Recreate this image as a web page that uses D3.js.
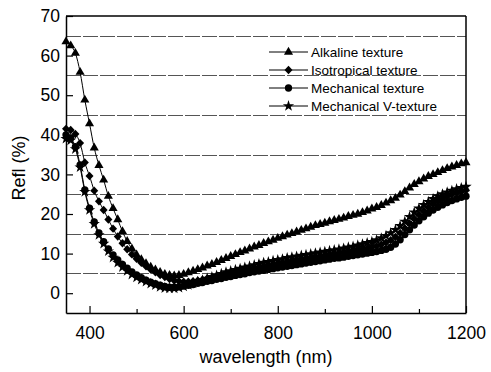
<!DOCTYPE html>
<html>
  <head>
    <meta charset="UTF-8">
    <title>Refl vs wavelength</title>
    <style>
    html, body {
      margin: 0;
      background-color: white;
    }
    text {
      font-family: 'Liberation Sans', Arial, sans-serif;
      fill: black;
    }
    </style>
  </head>

  <body>
  <svg id="chart" width="491" height="372"></svg>
  <script src="https://d3js.org/d3.v7.min.js"></script>
  <script>
  // Wavelength samples (nm)
  var wavelength = [350, 360, 370, 380, 390, 400, 410, 420, 430, 440,
    450, 460, 470, 480, 490, 500, 510, 520, 530, 540,
    550, 560, 570, 580, 590, 600, 610, 620, 630, 640,
    650, 660, 670, 680, 690, 700, 710, 720, 730, 740,
    750, 760, 770, 780, 790, 800, 810, 820, 830, 840,
    850, 860, 870, 880, 890, 900, 910, 920, 930, 940,
    950, 960, 970, 980, 990, 1000, 1010, 1020, 1030, 1040,
    1050, 1060, 1070, 1080, 1090, 1100, 1110, 1120, 1130, 1140,
    1150, 1160, 1170, 1180, 1190, 1200];

  // Reflectance (%) per texture
  var alkaline = [63.5, 62.5, 60.6, 55.8, 48.8, 42.8, 36.7, 32.3, 28.6, 24.5,
    21.4, 18.6, 15.6, 13.1, 11.2, 9.7, 8.5, 7.5, 6.6, 5.9,
    5.3, 4.8, 4.5, 4.4, 4.5, 4.8, 5.2, 5.6, 6.0, 6.4,
    6.9, 7.3, 7.8, 8.3, 8.8, 9.3, 9.8, 10.3, 10.7, 11.2,
    11.7, 12.1, 12.6, 13.0, 13.4, 13.9, 14.3, 14.7, 15.1, 15.5,
    15.9, 16.3, 16.7, 17.1, 17.4, 17.7, 18.1, 18.4, 18.7, 19.0,
    19.4, 19.7, 20.0, 20.4, 20.8, 21.3, 21.7, 22.2, 22.8, 23.4,
    24.0, 24.8, 25.7, 26.6, 27.5, 28.2, 28.9, 29.5, 30.0, 30.5,
    31.0, 31.5, 31.9, 32.3, 32.7, 33.0];

  var isotropical = [41.5, 41.2, 40.2, 37.9, 33.0, 29.6, 25.9, 23.2, 21.0, 18.6,
    16.3, 14.3, 12.6, 11.1, 9.8, 8.7, 7.7, 6.8, 6.0, 5.3,
    4.6, 4.1, 3.6, 3.2, 3.0, 2.9, 2.9, 3.0, 3.2, 3.4,
    3.7, 3.9, 4.2, 4.5, 4.8, 5.0, 5.3, 5.5, 5.8, 6.0,
    6.3, 6.5, 6.7, 7.0, 7.2, 7.4, 7.6, 7.8, 8.1, 8.3,
    8.5, 8.7, 8.9, 9.1, 9.2, 9.4, 9.6, 9.8, 10.0, 10.2,
    10.4, 10.6, 10.9, 11.1, 11.3, 11.6, 11.9, 12.3, 12.8, 13.4,
    14.2, 15.2, 16.4, 17.6, 18.8, 19.9, 20.8, 21.7, 22.5, 23.2,
    23.8, 24.4, 24.9, 25.3, 25.7, 26.0];

  var mechanical = [40.0, 39.2, 37.0, 32.4, 26.1, 21.5, 18.0, 15.2, 13.0, 11.2,
    9.7, 8.4, 7.3, 6.3, 5.4, 4.6, 3.9, 3.3, 2.8, 2.4,
    2.0, 1.7, 1.5, 1.5, 1.6, 1.8, 2.0, 2.2, 2.5, 2.7,
    3.0, 3.2, 3.5, 3.7, 4.0, 4.2, 4.5, 4.7, 4.9, 5.2,
    5.4, 5.6, 5.8, 6.0, 6.2, 6.4, 6.6, 6.8, 7.0, 7.2,
    7.4, 7.6, 7.8, 8.0, 8.2, 8.4, 8.6, 8.8, 8.9, 9.1,
    9.3, 9.5, 9.7, 9.9, 10.1, 10.3, 10.5, 10.8, 11.1, 11.6,
    12.4, 13.5, 14.8, 16.0, 17.2, 18.3, 19.3, 20.2, 21.0, 21.7,
    22.3, 22.9, 23.4, 23.8, 24.2, 24.5];

  var mechanicalV = [39.0, 38.6, 36.4, 31.8, 25.6, 21.0, 17.5, 14.7, 12.5, 10.6,
    9.0, 7.7, 6.6, 5.6, 4.7, 4.0, 3.4, 2.9, 2.4, 2.0,
    1.6, 1.3, 1.2, 1.2, 1.4, 1.7, 2.1, 2.5, 2.9, 3.3,
    3.7, 4.1, 4.5, 4.9, 5.3, 5.6, 5.9, 6.2, 6.5, 6.8,
    7.1, 7.4, 7.7, 7.9, 8.2, 8.4, 8.6, 8.9, 9.1, 9.3,
    9.5, 9.7, 9.9, 10.1, 10.3, 10.5, 10.7, 10.9, 11.1, 11.3,
    11.6, 11.8, 12.1, 12.4, 12.7, 13.0, 13.4, 13.9, 14.5, 15.2,
    16.0, 17.0, 18.1, 19.3, 20.4, 21.4, 22.3, 23.1, 23.8, 24.5,
    25.0, 25.5, 25.9, 26.3, 26.6, 26.9];

  var seriesNames = ['Alkaline texture', 'Isotropical texture', 'Mechanical texture', 'Mechanical V-texture'];
  var seriesValues = [alkaline, isotropical, mechanical, mechanicalV];

  var xTicks = [400, 600, 800, 1000, 1200];
  var xMinorTicks = [500, 700, 900, 1100];
  var yTicks = [0, 10, 20, 30, 40, 50, 60, 70];
  var gridValues = [5, 15, 25, 35, 45, 55, 65];

  // Size variables (plot box edges)
  var plotLeft = 66, plotRight = 466, plotTop = 16, plotBottom = 313;
  var svg = d3.select('#chart');

  var x = d3.scaleLinear().domain([350, 1200]).range([plotLeft, plotRight]);
  var y = d3.scaleLinear().domain([-5, 70]).range([plotBottom, plotTop]);

  // Dashed horizontal grid lines
  svg.append('g').selectAll('line')
    .data(gridValues)
    .enter()
    .append('line')
    .attr('x1', plotLeft)
    .attr('x2', plotRight)
    .attr('y1', function (d) { return Math.round(y(d)) + 0.5; })
    .attr('y2', function (d) { return Math.round(y(d)) + 0.5; })
    .attr('stroke', '#555')
    .attr('stroke-width', 1)
    .attr('stroke-dasharray', '15,2');

  // Frame: top and right lines
  svg.append('line').attr('x1', plotLeft).attr('x2', plotRight).attr('y1', plotTop).attr('y2', plotTop)
    .attr('stroke', 'black').attr('stroke-width', 1.5);
  svg.append('line').attr('x1', plotRight).attr('x2', plotRight).attr('y1', plotTop).attr('y2', plotBottom)
    .attr('stroke', 'black').attr('stroke-width', 1.5);

  // Axes with inward ticks
  var xAxis = svg.append('g')
    .attr('transform', 'translate(0,' + plotBottom + ')')
    .call(d3.axisBottom(x).tickValues(xTicks).tickFormat(d3.format('d')).tickSize(-7).tickPadding(14).tickSizeOuter(0));
  svg.append('g')
    .attr('transform', 'translate(0,' + plotBottom + ')')
    .call(d3.axisBottom(x).tickValues(xMinorTicks).tickSize(-4).tickFormat('').tickSizeOuter(0))
    .select('.domain').remove();
  var yAxis = svg.append('g')
    .attr('transform', 'translate(' + plotLeft + ',0)')
    .call(d3.axisLeft(y).tickValues(yTicks).tickSize(-7).tickPadding(6).tickSizeOuter(0));

  svg.selectAll('.domain').attr('stroke-width', 1.5).attr('stroke', 'black');
  svg.selectAll('.tick line').attr('stroke', 'black').attr('stroke-width', 1.2);
  svg.selectAll('.tick text')
    .style('font-family', "'Liberation Sans', Arial, sans-serif")
    .style('font-size', '17.5px')
    .attr('fill', 'black');

  // Axis titles
  svg.append('text')
    .attr('x', (plotLeft + plotRight) / 2)
    .attr('y', 363)
    .attr('text-anchor', 'middle')
    .style('font-size', '18px')
    .text('wavelength (nm)');
  svg.append('text')
    .attr('transform', 'translate(25,168) rotate(-90)')
    .attr('text-anchor', 'middle')
    .style('font-size', '18px')
    .text('Refl (%)');

  // Marker shapes
  var diamondPath = 'M0,-4.2L4,0L0,4.2L-4,0Z';
  var shapes = [
    d3.symbol().type(d3.symbolTriangle).size(36)(),
    diamondPath,
    d3.symbol().type(d3.symbolCircle).size(42)(),
    d3.symbol().type(d3.symbolStar).size(40)()
  ];

  var line = d3.line()
    .x(function (d) { return x(d[0]); })
    .y(function (d) { return y(d[1]); })
    .curve(d3.curveMonotoneX);

  seriesValues.forEach(function (vals, k) {
    var pts = wavelength.map(function (w, i) { return [w, vals[i]]; });
    var g = svg.append('g');
    g.append('path')
      .attr('d', line(pts))
      .attr('fill', 'none')
      .attr('stroke', 'black')
      .attr('stroke-width', 1);
    g.selectAll('path.m')
      .data(pts)
      .enter()
      .append('path')
      .attr('class', 'm')
      .attr('d', shapes[k])
      .attr('transform', function (d) {
        return 'translate(' + x(d[0]) + ',' + y(d[1]) + ')';
      })
      .attr('fill', 'black');
  });

  // Legend
  var legendY = [52, 70, 88, 106];
  var legend = svg.append('g');
  seriesNames.forEach(function (name, k) {
    var row = legend.append('g').attr('transform', 'translate(0,' + legendY[k] + ')');
    row.append('line').attr('x1', 269).attr('x2', 308).attr('y1', 0).attr('y2', 0)
      .attr('stroke', 'black').attr('stroke-width', 1);
    row.append('path').attr('d', shapes[k]).attr('transform', 'translate(288.5,0)').attr('fill', 'black');
    row.append('text')
      .attr('x', 311)
      .attr('y', 0)
      .attr('dy', '0.35em')
      .style('font-size', '13.5px')
      .text(name);
  });
  </script>
  </body>
</html>
